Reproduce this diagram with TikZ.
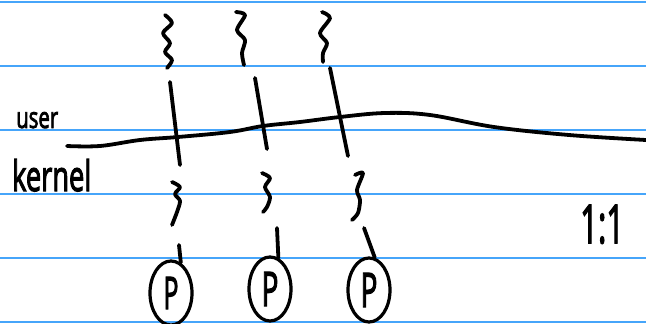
\documentclass[tikz,border=0pt]{standalone}
\usepackage{fontspec}
\setmainfont{Open Sans}
\newfontfamily\hand[FakeBold=3]{Open Sans}
\usetikzlibrary{shapes.geometric}
\definecolor{rule}{RGB}{70,165,250}
\begin{document}
\begin{tikzpicture}[x=1pt,y=-1pt,
  ink/.style={line width=3.8pt,line cap=round,line join=round},
  ruled/.style={draw=rule,line width=1.8pt},
  proc/.style={ellipse,draw,line width=3.2pt,minimum width=42pt,minimum height=64pt,inner sep=0pt,font=\hand},
  lbl/.style={inner sep=0pt,anchor=base west,font=\hand}]
\useasboundingbox (0,0) rectangle (646,324);
\foreach \y in {2,66,130,194,258,322} \draw[ruled] (0,\y) -- (646,\y);
% boundary curve
\draw[ink] plot[smooth,tension=0.6] coordinates {(67,146) (100,146) (140,140) (178,137) (230,132) (263,126) (300,122) (340,117) (385,113) (430,115) (494,127) (569,135) (646,140)};
% top squiggles
\draw[ink] plot[smooth] coordinates {(165,15) (172,23) (163,33) (170,43) (165,52) (172,60) (167,68)};
\draw[ink] plot[smooth] coordinates {(236,12) (245,15) (237,30) (245,40) (242,53) (244,65)};
\draw[ink] plot[smooth] coordinates {(322,12) (330,18) (320,33) (327,43) (323,53) (323,62)};
% crossing lines
\draw[ink] (170,82) -- (180,165);
\draw[ink] (255,78) -- (267,149);
\draw[ink] (330,68) -- (348,156);
% lower squiggles
\draw[ink] plot[smooth] coordinates {(172,182) (180,187) (175,194) (180,201) (177,212) (172,225)};
\draw[ink] plot[smooth] coordinates {(262,173) (270,178) (265,187) (270,197) (267,207) (263,212)};
\draw[ink] plot[smooth] coordinates {(355,175) (363,173) (357,190) (360,200) (358,213) (352,220)};
% processes
\node[proc] (p1) at (171,293) {\resizebox{15pt}{32pt}{P}};
\node[proc] (p2) at (270,289) {\resizebox{17pt}{34pt}{P}};
\node[proc] (p3) at (369,290) {\resizebox{17pt}{34pt}{P}};
\coordinate (t1) at (179,245);
\coordinate (t2) at (277,228);
\coordinate (t3) at (364,228);
\draw[ink] (t1) -- (p1.72);
\draw[ink] (t2) -- (p2.75);
\draw[ink] (t3) -- (p3.80);
% labels
\node[lbl] (user) at (16,128) {\resizebox{42pt}{16pt}{user}};
\node[lbl] (kernel) at (12,191) {\resizebox{79pt}{32pt}{kernel}};
\node[lbl] (ratio) at (580,243) {\resizebox{44pt}{38pt}{1:1}};
\end{tikzpicture}
\end{document}
